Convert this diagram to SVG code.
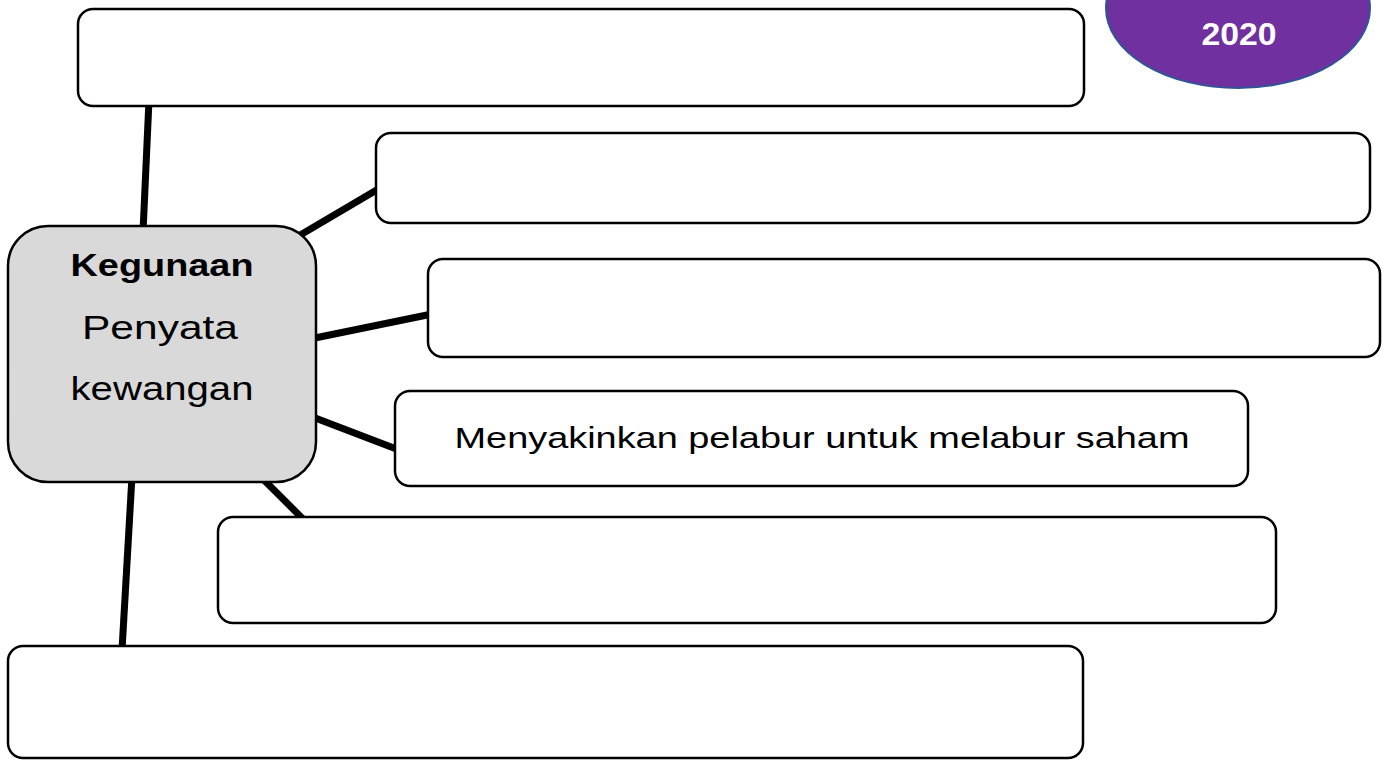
<svg xmlns="http://www.w3.org/2000/svg" width="1387" height="762" viewBox="0 0 1387 762">
<style>
.box{fill:#fff;stroke:#000;stroke-width:2.5}
.hub{fill:#d9d9d9;stroke:#000;stroke-width:2.5}
.con{stroke:#000;stroke-width:7;fill:none;stroke-linecap:butt}
.t{font-family:"Liberation Sans",Arial,sans-serif;fill:#000;text-anchor:middle}
</style>
<rect width="1387" height="762" fill="#fff"/>
<g id="connectors">
<line class="con" x1="149" y1="100" x2="143" y2="232"/>
<line class="con" x1="285" y1="244" x2="380" y2="188"/>
<line class="con" x1="310" y1="339" x2="432" y2="314"/>
<line class="con" x1="310" y1="416" x2="399" y2="450"/>
<line class="con" x1="258" y1="474" x2="305" y2="521"/>
<line class="con" x1="132" y1="476" x2="122" y2="650"/>
</g>
<g id="year">
<ellipse cx="1238" cy="8" rx="132" ry="80" fill="#7030a0" stroke="#2f5597" stroke-width="2"/>
<text class="t" x="1239" y="45" font-size="31" font-weight="bold" style="fill:#fff" textLength="75" lengthAdjust="spacingAndGlyphs">2020</text>
</g>
<g id="box1"><rect class="box" x="78" y="9" width="1006" height="97" rx="15"/></g>
<g id="box2"><rect class="box" x="376" y="133" width="994" height="90" rx="15"/></g>
<g id="box3"><rect class="box" x="428" y="259" width="952" height="98" rx="15"/></g>
<g id="box4"><rect class="box" x="395" y="391" width="853" height="95" rx="15"/>
<text class="t" x="822" y="448" font-size="29" textLength="735" lengthAdjust="spacingAndGlyphs">Menyakinkan pelabur untuk melabur saham</text></g>
<g id="box5"><rect class="box" x="218" y="517" width="1058" height="106" rx="15"/></g>
<g id="box6"><rect class="box" x="8" y="646" width="1075" height="112" rx="15"/></g>
<g id="hub"><rect class="hub" x="8" y="226" width="308" height="256" rx="40"/>
<text class="t" x="162" y="276" font-size="32" font-weight="bold" textLength="183" lengthAdjust="spacingAndGlyphs">Kegunaan</text>
<text class="t" x="160" y="339" font-size="33" textLength="156" lengthAdjust="spacingAndGlyphs">Penyata</text>
<text class="t" x="162" y="400" font-size="33" textLength="183" lengthAdjust="spacingAndGlyphs">kewangan</text>
</g>
</svg>
